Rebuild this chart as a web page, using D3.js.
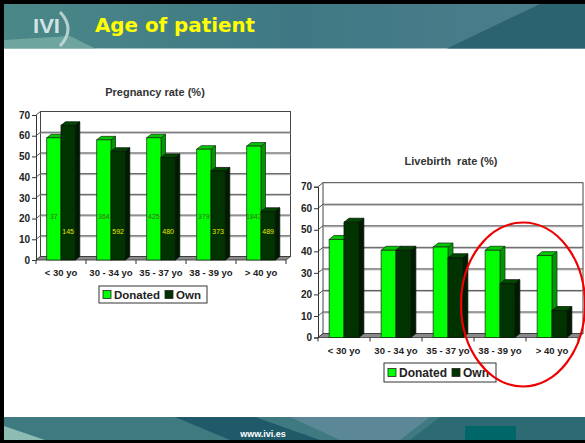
<!DOCTYPE html>
<html>
<head>
<meta charset="utf-8">
<script src="https://cdn.jsdelivr.net/npm/d3@7"></script>
<style>
  html, body { margin: 0; padding: 0; background: #fff; }
  svg { display: block; }
</style>
</head>
<body>
<div id="slide"></div>
<script>
// Data
const categories = ["< 30 yo", "30 - 34 yo", "35 - 37 yo", "38 - 39 yo", "> 40 yo"];
const seriesNames = ["Donated", "Own"];
const pregDonated = [59, 58, 59, 53.5, 55];
const pregOwn = [65, 52.5, 49.5, 43, 23.5];
const pregDonatedN = ["37", "364", "425", "379", "1843"];
const pregOwnN = ["145", "592", "480", "373", "489"];
const liveDonated = [45.5, 40.5, 42, 40.5, 38];
const liveOwn = [53.5, 40.5, 37, 25, 12.5];
const yTicks = [0, 10, 20, 30, 40, 50, 60, 70];

const W = 585, H = 443;
const FONT = "'Liberation Sans', Arial, sans-serif";
const colors = {
  Donated: { front: "#00ff00", side: "#009a00", top: "#00c800", stroke: "#1c3a1c" },
  Own: { front: "#003300", side: "#001c00", top: "#004a00", stroke: "#0a140a" }
};

const svg = d3.select("#slide").append("svg")
  .attr("width", W).attr("height", H)
  .style("font-family", FONT);

// ---- slide frame, header and footer ----
svg.append("rect").attr("width", W).attr("height", H).attr("fill", "#000");
svg.append("rect").attr("x", 4).attr("y", 4).attr("width", W - 4).attr("height", 436).attr("fill", "#fff");

const defs = svg.append("defs");
const hg = defs.append("linearGradient").attr("id", "hdr").attr("x1", "0").attr("x2", "1");
hg.append("stop").attr("offset", "0").attr("stop-color", "#4a8888");
hg.append("stop").attr("offset", "0.5").attr("stop-color", "#3f7884");
hg.append("stop").attr("offset", "1").attr("stop-color", "#4e7f8e");

const header = svg.append("g");
header.append("rect").attr("x", 4).attr("y", 4).attr("width", W - 4).attr("height", 44.5).attr("fill", "url(#hdr)");
header.append("path").attr("d", "M4,40 L70,36 L95,48.5 L4,48.5Z").attr("fill", "#7fb2aa").attr("opacity", 0.7);
header.append("path").attr("d", "M447,48.5 L540,4 L585,4 L585,48.5Z").attr("fill", "#2c6370");
header.append("path").attr("d", "M60,12 Q76,29 60,46").attr("fill", "none")
  .attr("stroke", "#c9dada").attr("stroke-width", 3).attr("opacity", 0.85);
header.append("text").attr("x", 33).attr("y", 33).attr("textLength", 27).attr("lengthAdjust", "spacingAndGlyphs")
  .attr("fill", "#d5e2e2").attr("font-size", 20).attr("font-weight", "bold").text("IVI");
header.append("text").attr("x", 95).attr("y", 32).attr("textLength", 160).attr("lengthAdjust", "spacingAndGlyphs")
  .attr("fill", "#ffff00").attr("font-size", 20).attr("font-weight", "bold")
  .style("font-family", "'Comic Sans MS', 'DejaVu Sans', sans-serif").text("Age of patient");

const footer = svg.append("g");
footer.append("rect").attr("x", 4).attr("y", 417).attr("width", W - 4).attr("height", 23).attr("fill", "#3f7a80");
footer.append("path").attr("d", "M4,426 L45,440 L4,440Z").attr("fill", "#8cbcb2");
footer.append("path").attr("d", "M175,417 L255,417 L320,440 L230,440Z").attr("fill", "#205a68");
footer.append("path").attr("d", "M290,417 L430,417 L400,440 L340,440Z").attr("fill", "#5b8796");
footer.append("path").attr("d", "M440,417 L585,417 L585,440 L410,440Z").attr("fill", "#2e6a74");
footer.append("rect").attr("x", 465).attr("y", 426).attr("width", 51).attr("height", 14).attr("fill", "#006668");
footer.append("text").attr("x", 263).attr("y", 437).attr("text-anchor", "middle")
  .attr("fill", "#fff").attr("font-size", 9).attr("font-weight", "bold").text("www.ivi.es");

// ---- a 3D clustered column chart ----
function drawChart(cfg) {
  const g = svg.append("g");
  const [dx, dy] = cfg.depth;
  const x = d3.scaleBand().domain(categories).range(cfg.xRange);
  const sub = d3.scaleBand().domain(seriesNames).range([0, x.bandwidth()]).paddingOuter(0.75);
  const y = d3.scaleLinear().domain([0, 70]).range(cfg.yRange);
  const [x0, x1] = cfg.xRange;
  const y0 = y(0), yT = y(70);

  // back wall
  g.append("rect").attr("x", x0 + dx).attr("y", yT + dy)
    .attr("width", x1 - x0).attr("height", y0 - yT)
    .attr("fill", "#fff").attr("stroke", "#444").attr("stroke-width", 1);

  // gridlines on wall + left wall diagonals
  const grid = yTicks.filter(v => v > 0 && v < 70);
  g.selectAll(".gl2").data(grid).join("line")
    .attr("x1", x0 + dx).attr("x2", x1 + dx)
    .attr("y1", v => y(v) + dy + 1).attr("y2", v => y(v) + dy + 1)
    .attr("stroke", "#b0b0b0");
  g.selectAll(".gl").data(grid).join("line")
    .attr("x1", x0 + dx).attr("x2", x1 + dx)
    .attr("y1", v => y(v) + dy).attr("y2", v => y(v) + dy)
    .attr("stroke", "#555");
  g.selectAll(".dg").data(yTicks).join("line")
    .attr("x1", x0).attr("x2", x0 + dx)
    .attr("y1", v => y(v)).attr("y2", v => y(v) + dy)
    .attr("stroke", "#555");

  // floor
  g.append("path")
    .attr("d", `M${x0},${y0}L${x1},${y0}L${x1 + dx},${y0 + dy}L${x0 + dx},${y0 + dy}Z`)
    .attr("fill", "#8a8a8a").attr("stroke", "#333").attr("stroke-width", 0.8);

  // bars
  const bw = sub.bandwidth();
  categories.forEach((c, i) => {
    seriesNames.forEach((s, j) => {
      const v = cfg.values[j][i];
      const bx = x(c) + sub(s), yt = y(v);
      const col = colors[s];
      const bar = g.append("g");
      bar.append("path")
        .attr("d", `M${bx + bw},${yt}L${bx + bw + dx},${yt + dy}L${bx + bw + dx},${y0 + dy}L${bx + bw},${y0}Z`)
        .attr("fill", col.side).attr("stroke", col.stroke).attr("stroke-width", 0.8);
      bar.append("path")
        .attr("d", `M${bx},${yt}L${bx + dx},${yt + dy}L${bx + bw + dx},${yt + dy}L${bx + bw},${yt}Z`)
        .attr("fill", col.top).attr("stroke", col.stroke).attr("stroke-width", 0.8);
      bar.append("rect").attr("x", bx).attr("y", yt).attr("width", bw).attr("height", y0 - yt)
        .attr("fill", col.front).attr("stroke", col.stroke).attr("stroke-width", 0.8);
    });
  });

  // data labels (counts)
  if (cfg.counts) {
    const lab = [{ pos: 21, fill: "#3d6b1e" }, { pos: 14, fill: "#e8e800" }];
    seriesNames.forEach((s, j) => {
      g.selectAll(null).data(categories).join("text")
        .attr("x", c => x(c) + sub(s) + bw / 2)
        .attr("y", y(lab[j].pos) + 2.5)
        .attr("text-anchor", "middle").attr("font-size", 7).attr("fill", lab[j].fill)
        .text((c, i) => cfg.counts[j][i]);
    });
  }

  // y axis
  const ya = g.append("g").attr("transform", `translate(${x0},0)`)
    .call(d3.axisLeft(y).tickValues(yTicks).tickSize(4).tickPadding(2));
  ya.select(".domain").attr("stroke", "#333");
  ya.selectAll(".tick line").attr("stroke", "#333");
  ya.selectAll("text").attr("font-size", 10).attr("font-weight", "bold").attr("fill", "#222")
    .style("font-family", FONT);

  // x ticks at band edges, labels in band centres
  const edges = categories.map(c => x(c)).concat([x1]);
  g.selectAll(".xt").data(edges).join("line")
    .attr("x1", d => d).attr("x2", d => d).attr("y1", y0).attr("y2", y0 + 4)
    .attr("stroke", "#333");
  g.selectAll(".xl").data(categories).join("text")
    .attr("x", c => x(c) + x.bandwidth() / 2).attr("y", cfg.labelY)
    .attr("text-anchor", "middle").attr("font-size", 9.5).attr("font-weight", "bold").attr("fill", "#222")
    .text(c => c);

  // title
  g.append("text").attr("x", cfg.titleX).attr("y", cfg.titleY).attr("text-anchor", "middle")
    .attr("font-size", 11).attr("font-weight", "bold").attr("fill", "#333")
    .style("white-space", "pre").text(cfg.title);

  // legend
  const [lx, ly, lw, lh] = cfg.legend;
  const lg = g.append("g");
  lg.append("rect").attr("x", lx).attr("y", ly).attr("width", lw).attr("height", lh)
    .attr("fill", "#fff").attr("stroke", "#333");
  let cx = lx + 4;
  seriesNames.forEach(s => {
    lg.append("rect").attr("x", cx).attr("y", ly + lh / 2 - 4).attr("width", 8).attr("height", 8)
      .attr("fill", colors[s].front).attr("stroke", "#222").attr("stroke-width", 0.8);
    const t = lg.append("text").attr("x", cx + 11).attr("y", ly + lh / 2 + 4)
      .attr("font-size", cfg.legendFont).attr("font-weight", "bold").attr("fill", "#222").text(s);
    cx += 11 + t.node().getComputedTextLength() + 5;
  });
  return { g, x, y };
}

drawChart({
  xRange: [36, 286], yRange: [260, 115], depth: [4.5, -3.5],
  values: [pregDonated, pregOwn], counts: [pregDonatedN, pregOwnN],
  title: "Pregnancy rate (%)", titleX: 155, titleY: 95.5, labelY: 276,
  legend: [99, 286, 108, 17], legendFont: 11.5
});

const c2 = drawChart({
  xRange: [318, 578], yRange: [337.5, 186.7], depth: [5, -4],
  values: [liveDonated, liveOwn],
  title: "Livebirth  rate (%)", titleX: 451, titleY: 164.5, labelY: 353.5,
  legend: [384, 363, 112, 19], legendFont: 12
});

// red annotation ellipse around the two oldest groups
svg.append("ellipse").attr("cx", 523).attr("cy", 304.5).attr("rx", 62).attr("ry", 82)
  .attr("fill", "none").attr("stroke", "#ee0000").attr("stroke-width", 2.2);
</script>
</body>
</html>
